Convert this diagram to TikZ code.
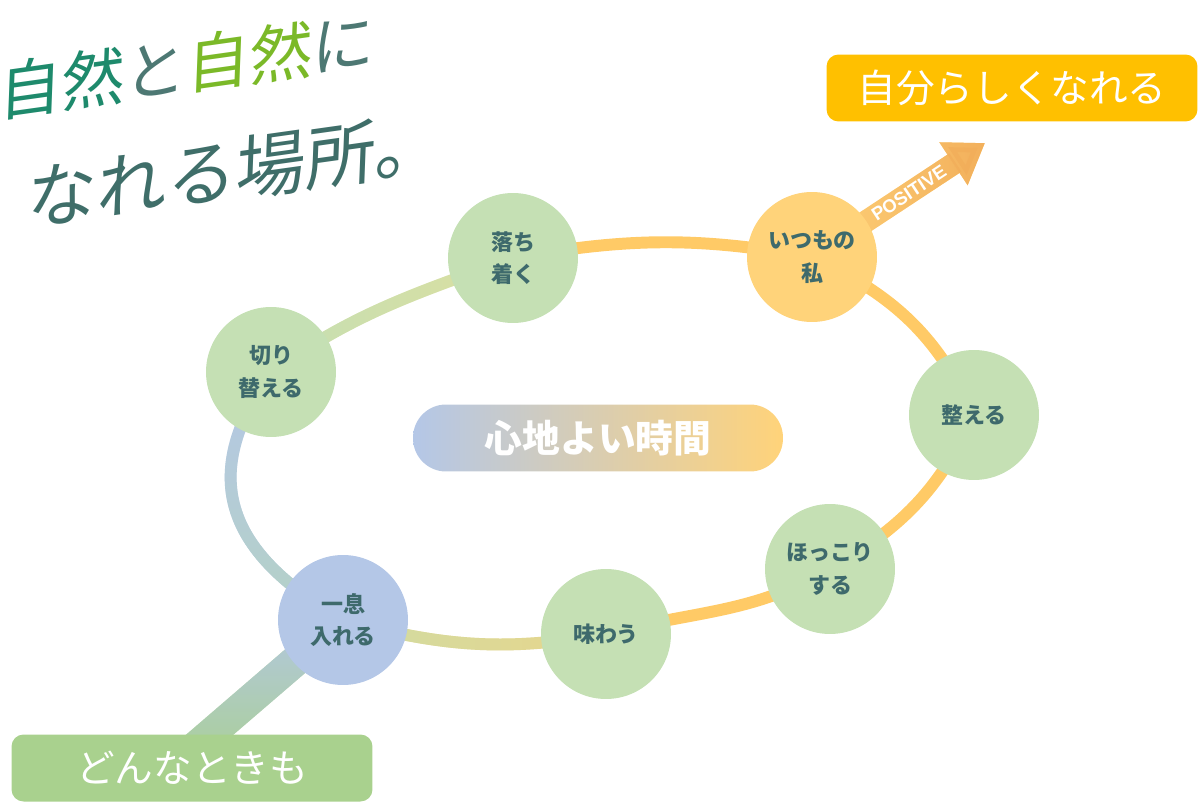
\documentclass[tikz,border=0pt]{standalone}
\usepackage{fontspec}
\setmainfont{Noto Sans CJK JP}
\setsansfont{Liberation Sans}
\newfontfamily\handfont[FakeSlant=0.18]{Noto Sans CJK JP}
\usetikzlibrary{positioning, arrows.meta, fadings, backgrounds}

\definecolor{leaf}{HTML}{C5E0B4}
\definecolor{sun}{HTML}{FFD37A}
\definecolor{sky}{HTML}{B4C7E7}
\definecolor{ringyel}{HTML}{FFCA66}
\definecolor{ringlime}{HTML}{DCDFA0}
\definecolor{ringsand}{HTML}{EAD68A}
\definecolor{ringsage}{HTML}{CFDCA5}
\definecolor{ringmint}{HTML}{B5D2C6}
\definecolor{labeltxt}{HTML}{3E6A6C}
\definecolor{gold}{HTML}{FFC000}
\definecolor{grass}{HTML}{A9D18E}
\definecolor{peach}{HTML}{F2AE5A}
\definecolor{handteal}{HTML}{1E8A6C}
\definecolor{handlime}{HTML}{7BB928}
\definecolor{handgray}{HTML}{4D7873}
\definecolor{handdark}{HTML}{3F6E69}

\begin{document}
\begin{tikzpicture}[x=0.02cm, y=0.02cm,
  spot/.style={circle, minimum size=2.6cm, inner sep=0pt, fill=leaf, text=labeltxt,
    font=\bfseries\fontsize{12.5}{18.5}\selectfont, align=center},
  ring/.style={line width=6.8pt},
  tag/.style={rounded corners=0.24cm, minimum height=1.34cm, inner sep=0pt,
    text=white, font=\fontsize{22}{24}\selectfont},
  hand/.style={rotate=8, inner sep=0pt, font=\handfont\fontsize{36}{38}\selectfont}]
\useasboundingbox (0,0) rectangle (1200,-804);

\node[hand] (line1) at (183,-66) {\textcolor{handteal}{自然}\textcolor{handgray}{と}\textcolor{handlime}{自然}\textcolor{handgray}{に}};
\node[hand, text=handdark, font=\handfont\fontsize{40}{42}\selectfont] (line2) at (232,-170) {なれる場所。};

\node[spot] (kiri) at (271,-372) {切り\\替える};
\node[spot] (ochi) at (513,-258) {落ち\\着く};
\node[spot, fill=sun] (watashi) at (812,-257) {いつもの\\私};
\node[spot] (toto) at (974,-415) {整える};
\node[spot] (hokko) at (830,-569) {ほっこり\\する};
\node[spot] (aji) at (606,-634) {味わう};
\node[spot, fill=sky] (ippo) at (343,-620) {一息\\入れる};

\node[tag, fill=gold, minimum width=7.42cm] (jibun) at (1012,-88) {自分らしくなれる};
\node[tag, fill=grass, minimum width=7.22cm] (donna) at (192,-768) {どんなときも};
\node[tag, rounded corners=0.66cm, left color=sky, right color=sun, minimum width=7.4cm,
  font=\bfseries\fontsize{21.5}{24}\selectfont] (kokochi) at (598,-438) {心地よい時間};
\coordinate (postip) at (985,-143);

\begin{scope}[on background layer]
  \draw[ring, ringlime] (kiri.center) to[out=35,in=200] (ochi.center);
  \draw[ring, leaf, path fading=east] (kiri.center) to[out=35,in=200] (ochi.center);
  \draw[ring, ringyel] (ochi.center) to[out=10,in=170] (watashi.center);
  \draw[ring, ringyel] (watashi.center) to[out=-25,in=115] (toto.center);
  \draw[ring, ringyel] (toto.center) to[out=-115,in=30] (hokko.center);
  \draw[ring, ringyel] (hokko.center) to[out=-150,in=15] (aji.center);
  \draw[ring, ringsand] (aji.center) to[out=190,in=-15] (ippo.center);
  \draw[ring, ringsage, path fading=east] (aji.center) to[out=190,in=-15] (ippo.center);
  \draw[ring, sky] (ippo.center) to[out=150,in=-125, looseness=1.3] (kiri.center);
  \draw[ring, ringmint, path fading=north] (ippo.center) to[out=150,in=-125, looseness=1.3] (kiri.center);

  \draw[line width=17.6pt, grass] (ippo.center) -- ([xshift=-0.42cm]donna.center);
  \draw[line width=17.6pt, sky, path fading=south] (ippo.center) -- ([xshift=-0.42cm]donna.center);

  \draw[line width=12.5pt, sun, -{Triangle[length=21.5pt, width=27.8pt]}] (watashi.center) -- (postip);
  \draw[line width=12.5pt, peach, path fading=west, -{Triangle[length=21.5pt, width=27.8pt]}] (watashi.center) -- (postip);
\end{scope}
\path (watashi.center) -- (postip) node[pos=.56, sloped, text=white,
  font=\sffamily\bfseries\fontsize{10.5}{12}\selectfont] {POSITIVE};
\end{tikzpicture}
\end{document}
